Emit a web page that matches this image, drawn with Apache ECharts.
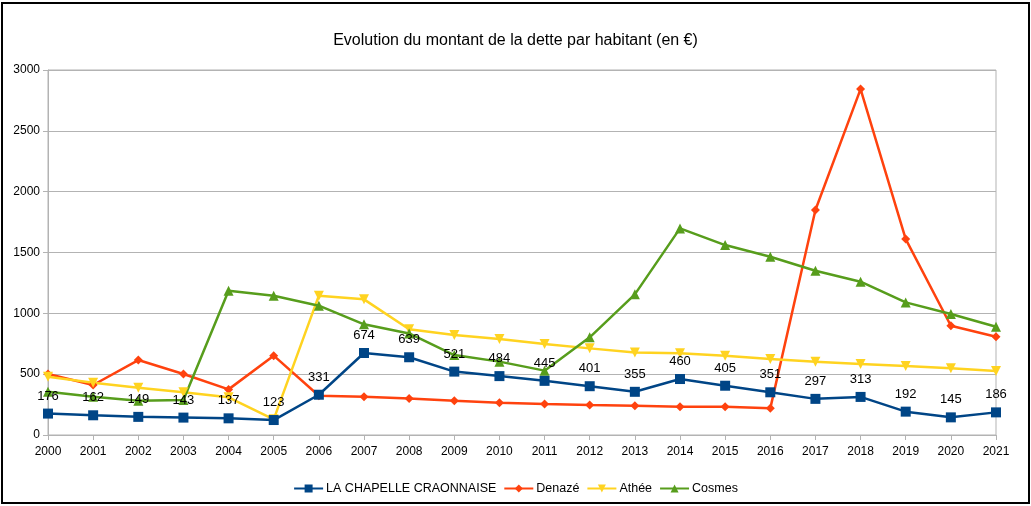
<!DOCTYPE html>
<html>
<head>
<meta charset="utf-8">
<script src="https://cdn.jsdelivr.net/npm/echarts@6/dist/echarts.min.js"></script>
<style>
html,body{margin:0;padding:0;background:#fff;}
#frame{position:absolute;left:1px;top:2px;width:1025px;height:498px;border:2px solid #000;}
#chart{position:absolute;left:0;top:0;width:1031px;height:506px;}
</style>
</head>
<body>
<div id="frame"></div>
<div id="chart"></div>
<script>
const years = ['2000','2001','2002','2003','2004','2005','2006','2007','2008','2009','2010','2011','2012','2013','2014','2015','2016','2017','2018','2019','2020','2021'];
const chapelle = [176,162,149,143,137,123,331,674,639,521,484,445,401,355,460,405,351,297,313,192,145,186];
const denaze = [501,411,616,501,375,652,323,315,301,282,266,255,247,241,233,233,219,1849,2843,1610,898,808];
const athee = [479,430,389,351,310,129,1145,1115,869,822,789,748,712,679,671,652,624,603,583,567,548,526];
const cosmes = [356,315,282,288,1186,1145,1063,910,835,657,603,529,803,1156,1698,1561,1465,1350,1260,1090,994,890];
const yTicks = {min:0, max:3000, interval:500};

const chart = echarts.init(document.getElementById('chart'));
const font = 'Liberation Sans';
function mk(name, data, color, symbol, size, label, rot){
  return {
    name, type:'line', data, color,
    symbol, symbolSize:size, symbolRotate:rot||0,
    lineStyle:{width:2.5,color},
    itemStyle:{color},
    label: label ? {show:true, position:'top', distance:6, color:'#000', fontFamily:font, fontSize:13} : {show:false},
    emphasis:{disabled:true},
    z: label ? 4 : 2
  };
}
chart.setOption({
  animation:false,
  textStyle:{fontFamily:font},
  title:{text:'Evolution du montant de la dette par habitant (en €)', left:'center', top:28,
    textStyle:{fontFamily:font, fontSize:16, fontWeight:'normal', color:'#000'}},
  legend:{bottom:6, left:'center', itemWidth:29, itemHeight:10, itemGap:7,
    textStyle:{fontFamily:font, fontSize:12.5, color:'#000', padding:[0,0,0,-2]},
    data:['LA CHAPELLE CRAONNAISE','Denazé','Athée','Cosmes']},
  grid:{left:48, right:35, top:70, bottom:71, show:true, borderColor:'#b3b3b3', borderWidth:1, containLabel:false},
  xAxis:{type:'category', data:years, boundaryGap:false,
    axisLine:{lineStyle:{color:'#b3b3b3'}},
    axisTick:{show:true, length:5, lineStyle:{color:'#b3b3b3'}},
    axisLabel:{color:'#000', fontFamily:font, fontSize:12, margin:11, interval:0},
    splitLine:{show:false}
  },
  yAxis:{type:'value', min:yTicks.min, max:yTicks.max, interval:yTicks.interval,
    axisLine:{show:true, lineStyle:{color:'#b3b3b3'}},
    axisTick:{show:true, length:5, lineStyle:{color:'#b3b3b3'}},
    axisLabel:{color:'#000', fontFamily:font, fontSize:12, margin:8, formatter:v=>String(v)},
    splitLine:{show:true, lineStyle:{color:'#b3b3b3'}}
  },
  series:[
    mk('LA CHAPELLE CRAONNAISE', chapelle, '#004586', 'rect', 10, true),
    mk('Denazé', denaze, '#ff420e', 'diamond', 9, false),
    mk('Athée', athee, '#ffd320', 'triangle', 10, false, 180),
    mk('Cosmes', cosmes, '#579d1c', 'triangle', 10, false)
  ]
});
</script>
</body>
</html>
